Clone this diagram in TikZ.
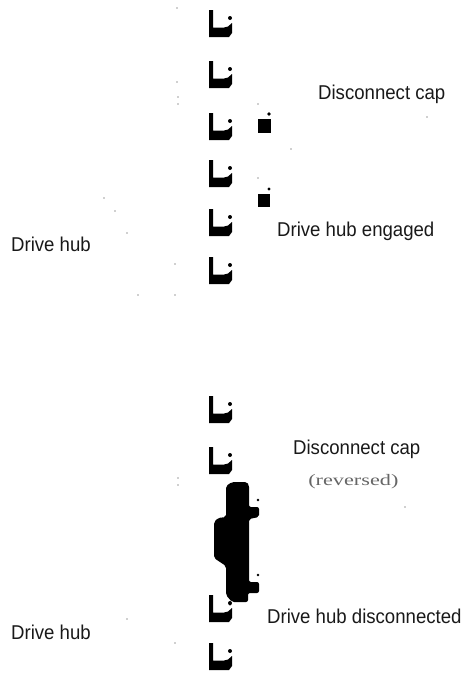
\documentclass[tikz,border=0pt]{standalone}
\usepackage{fontspec}
\setmainfont{Liberation Sans}
\newfontfamily\serifcap{Liberation Serif}
\tikzset{
  lab/.style={anchor=base west,inner sep=0pt,font=\fontsize{20}{22}\selectfont,xscale=.93,text=black!90},
  ink/.style={fill=black,draw=none},
}
\newcommand{\hubL}[1]{%
  \begin{scope}[shift={(209,#1)}]
    \fill[black] (0,0) -- (4,0) -- (4,17.5) -- (15,17.5) -- (19,16.5) -- (23,13) -- (23,23) -- (20,27) -- (0,27) -- cycle;
    \fill[black] (21,8) circle (2);
  \end{scope}}
\newcommand{\dotat}[2]{\fill[black!80] (#1,#2) circle (.7);}
\begin{document}
\begin{tikzpicture}[x=1pt,y=-1pt]
\useasboundingbox (0,0) rectangle (465,673);
\hubL{10}\hubL{61}\hubL{113}\hubL{160}\hubL{209}\hubL{257}
\hubL{396}\hubL{447}\hubL{595}\hubL{643}
% small squares
\fill[ink] (258,119) rectangle (271,133);
\fill[ink] (269,114) circle (1.9);
\fill[ink] (258,194) rectangle (270,207);
\fill[ink] (269,189) circle (1.6);
% reversed cap
\fill[ink,rounded corners=2pt] (226,490) -- (226,486) -- (232,482) -- (247,482) -- (249,485) -- (249,507) -- (259,507) -- (259,517) -- (249,519) -- (249,582) -- (259,582) -- (259,593) -- (248,593) -- (248,602) -- (232,602) -- (226,595) -- (226,566) -- (214,558) -- (214,522) -- (218,518) -- (226,517) -- cycle;
\fill[ink] (258,500) circle (1.3);
\fill[ink] (258,575) circle (1.3);
\fill[ink] (230,604) circle (1.5);
% labels
\node[lab] (dc1) at (318,99) {Disconnect cap};
\node[lab] (dhe) at (277,236) {Drive hub engaged};
\node[lab] (dh1) at (11,251) {Drive hub};
\node[lab] (dc2) at (293,454) {Disconnect cap};
\node[anchor=base west,inner sep=0pt,xscale=1.39,text=black!60,font=\serifcap\fontsize{16}{18}\selectfont] (rev) at (308,485) {(reversed)};
\node[lab] (dhd) at (267,623) {Drive hub disconnected};
\node[lab] (dh2) at (11,639) {Drive hub};
% specks
\dotat{177}{8}\dotat{177}{82}\dotat{178}{97}\dotat{178}{104}\dotat{258}{104}
\dotat{291}{149}\dotat{258}{178}\dotat{104}{198}\dotat{115}{211}\dotat{127}{233}
\dotat{175}{264}\dotat{138}{295}\dotat{175}{295}\dotat{427}{117}\dotat{178}{478}
\dotat{178}{485}\dotat{405}{507}\dotat{175}{643}\dotat{127}{619}
\end{tikzpicture}
\end{document}
